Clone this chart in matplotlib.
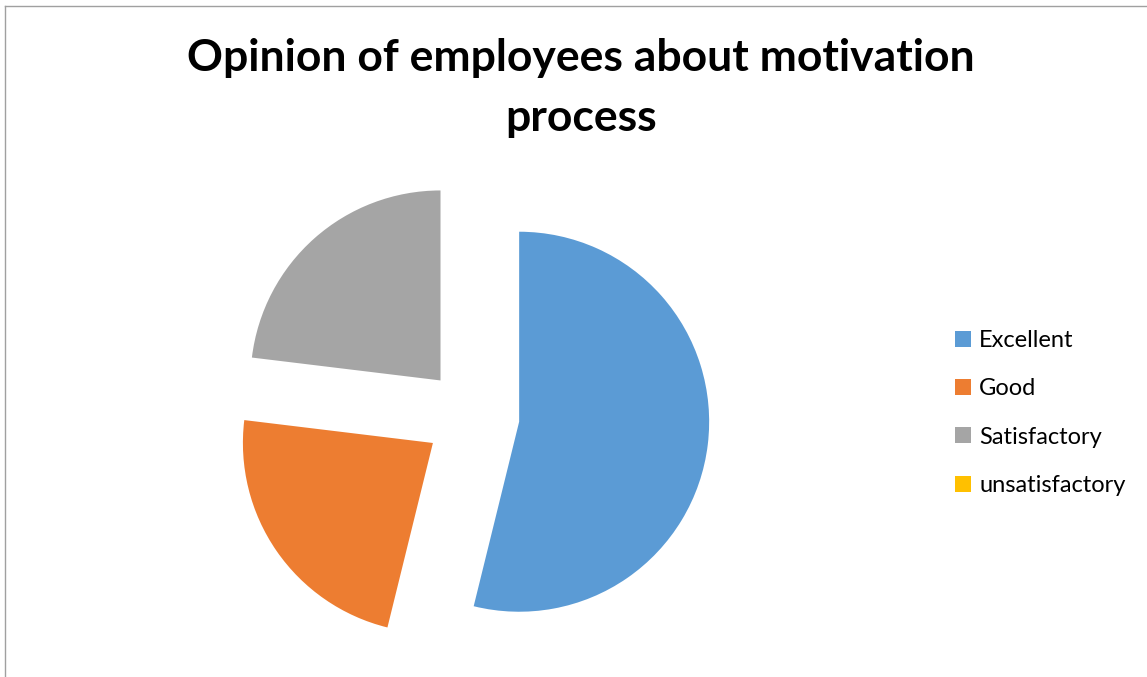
import matplotlib
matplotlib.use("Agg")
import matplotlib.pyplot as plt
from matplotlib.lines import Line2D

categories = ["Excellent", "Good", "Satisfactory", "unsatisfactory"]
values = [7, 3, 3, 0]
colors = ["#5B9BD5", "#ED7D31", "#A5A5A5", "#FFC000"]
title = "Opinion of employees about motivation\nprocess"

W, H = 1147, 677
fig = plt.figure(figsize=(W / 100, H / 100), dpi=100)
fig.patch.set_facecolor("white")

# pie axes: centre at (472, 416) px, radius 190 px
cx, cy, r = 472, H - 416, 190
half = 1.3 * r
ax = fig.add_axes([(cx - half) / W, (cy - half) / H, 2 * half / W, 2 * half / H])
wedges, _ = ax.pie(values, colors=colors, startangle=90, counterclock=False,
                   explode=[0.25] * len(values), radius=1,
                   wedgeprops=dict(linewidth=0))
ax.set_xlim(-1.3, 1.3)
ax.set_ylim(-1.3, 1.3)
ax.set_aspect("equal")
ax.axis("off")

fig.text(581 / W, 1 - 88 / H, title, ha="center", va="center",
         fontsize=32, fontweight="bold", family="Lato", linespacing=1.58)

# legend
handles = [Line2D([0], [0], marker="s", linestyle="none", markersize=11,
                  markerfacecolor=c, markeredgewidth=0) for c in colors]
fig.legend(handles, categories, loc="center left",
           bbox_to_anchor=(939 / W, 1 - 413 / H), frameon=False,
           prop=dict(family="Lato", size=17), labelspacing=1.16,
           handletextpad=0.1, handlelength=1.2, borderaxespad=0)

# chart frame lines (left and top)
fig.add_artist(Line2D([4.5 / W, 4.5 / W], [0, 1 - 6 / H], color="#A0A0A0", lw=1))
fig.add_artist(Line2D([4.5 / W, 1], [1 - 6 / H, 1 - 6 / H], color="#A0A0A0", lw=1))

fig.savefig("out.png", dpi=100, facecolor="white")
